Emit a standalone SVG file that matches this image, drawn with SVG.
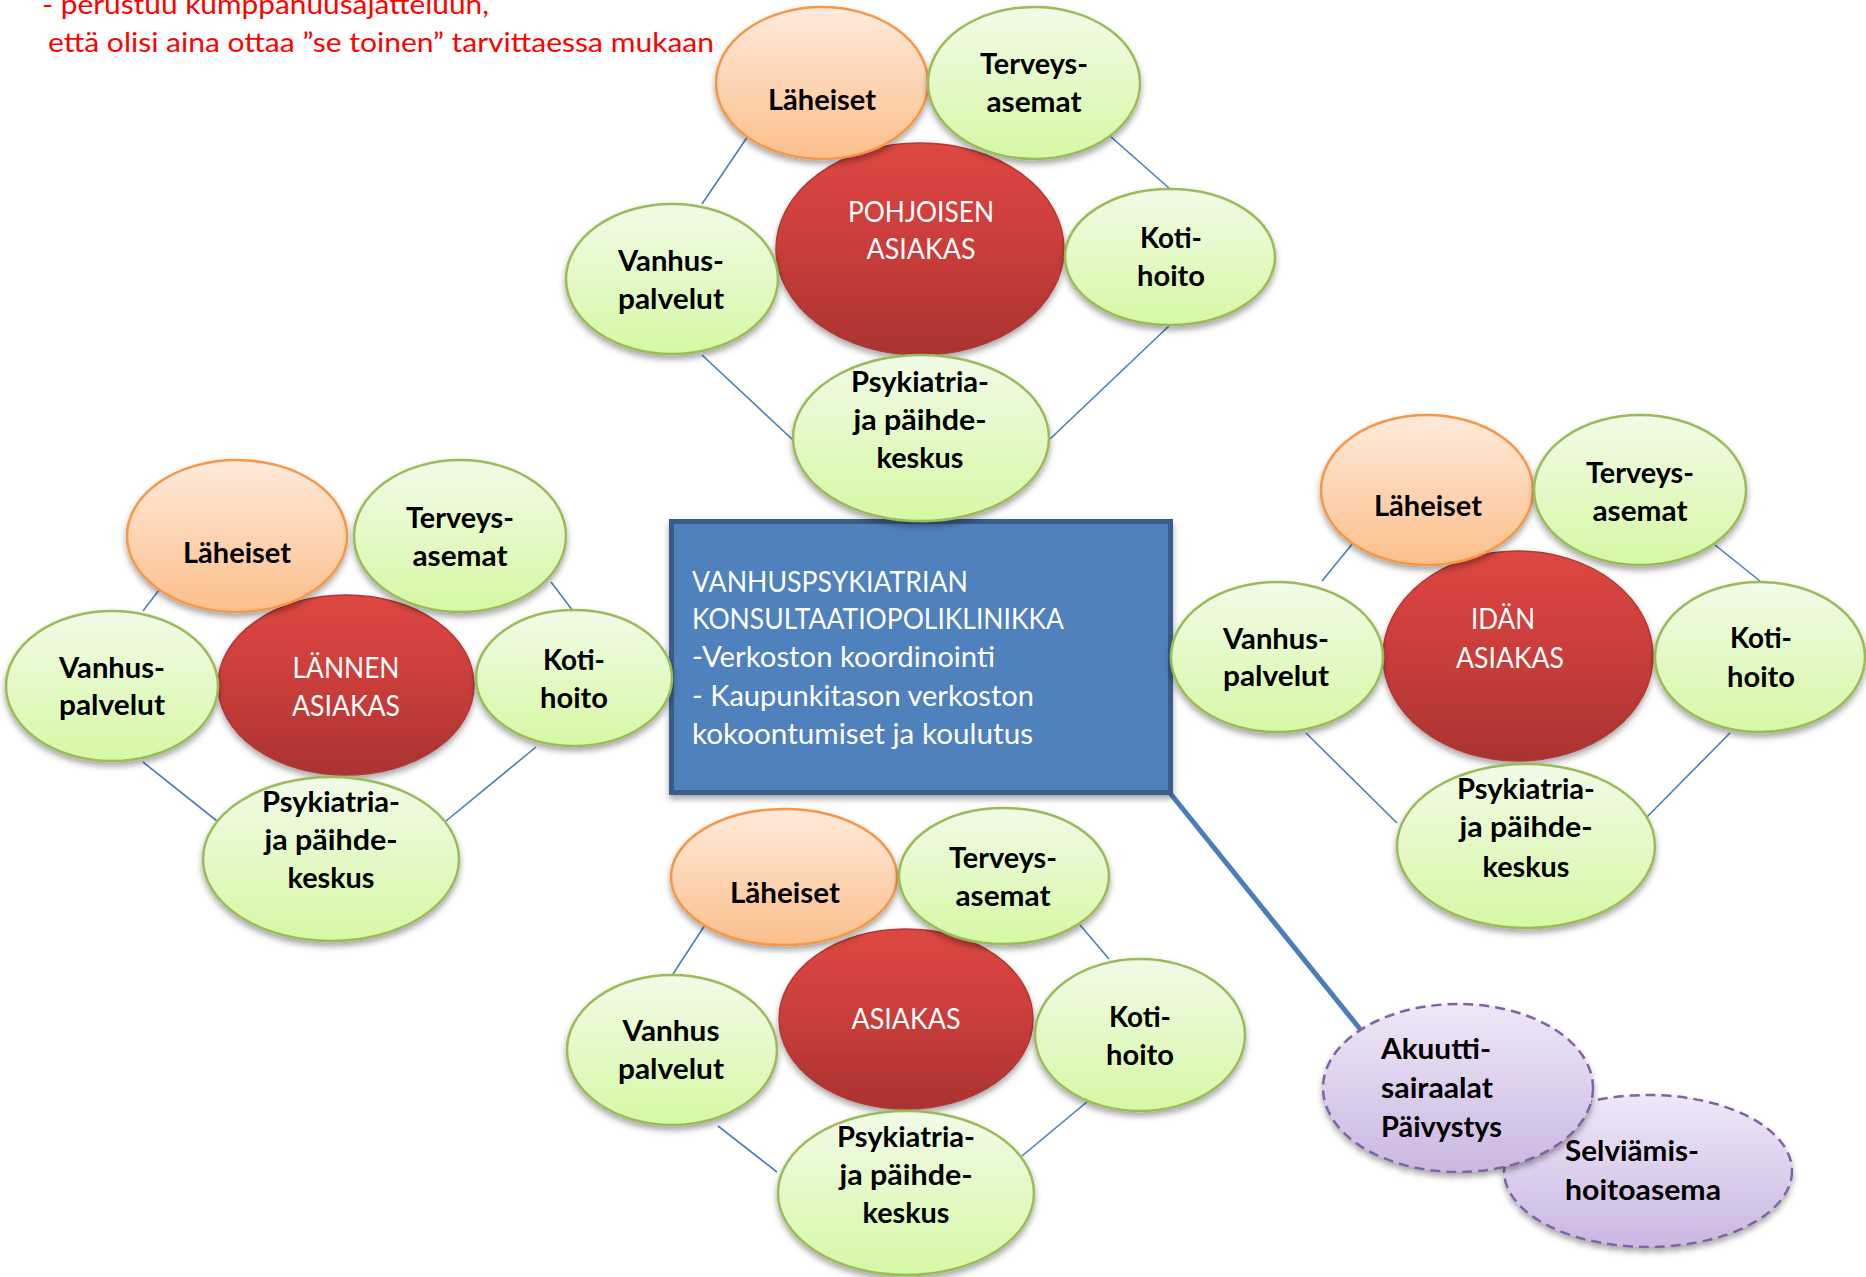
<svg xmlns="http://www.w3.org/2000/svg" width="1866" height="1277" viewBox="0 0 1866 1277">
<defs>
<linearGradient id="gG" x1="0" y1="0" x2="0" y2="1"><stop offset="0" stop-color="#F1FBE8"/><stop offset="1" stop-color="#D6F8A4"/></linearGradient>
<linearGradient id="gO" x1="0" y1="0" x2="0" y2="1"><stop offset="0" stop-color="#FEEADB"/><stop offset="1" stop-color="#FCBF8B"/></linearGradient>
<linearGradient id="gR" x1="0" y1="0" x2="0" y2="1"><stop offset="0" stop-color="#DE4743"/><stop offset="0.5" stop-color="#C93D3A"/><stop offset="1" stop-color="#A93331"/></linearGradient>
<linearGradient id="gP" x1="0" y1="0" x2="0" y2="1"><stop offset="0" stop-color="#EEE8F6"/><stop offset="1" stop-color="#CBB7E3"/></linearGradient>
<filter id="sh" x="-20%" y="-20%" width="140%" height="150%"><feDropShadow dx="0" dy="4" stdDeviation="3" flood-color="#000" flood-opacity="0.35"/></filter>
</defs>
<style>
.g{fill:url(#gG);stroke:#9BBB59;stroke-width:2.5;filter:url(#sh)}
.o{fill:url(#gO);stroke:#F79646;stroke-width:2.5;filter:url(#sh)}
.r{fill:url(#gR);stroke:#B23835;stroke-width:1.5;filter:url(#sh)}
.p{fill:url(#gP);stroke:#8064A2;stroke-width:2.5;stroke-dasharray:10 6;filter:url(#sh)}
.t{font-family:Lato,"Open Sans",sans-serif;font-weight:bold;font-size:28px;fill:#000;text-anchor:middle}
.tl{font-family:Lato,"Open Sans",sans-serif;font-weight:bold;font-size:28px;fill:#000}
.w{font-family:Lato,"Open Sans",sans-serif;font-size:28px;fill:#fff;text-anchor:middle}
.bx{font-family:Lato,"Open Sans",sans-serif;font-size:29px;fill:#fff}
.red{font-family:Lato,"Open Sans",sans-serif;font-size:26px;fill:#FF0000}
.c{stroke:#4A7EBB;stroke-width:1.6;fill:none}
.ct{stroke:#4A7EBB;stroke-width:5;fill:none}
</style>

<g id="note">
<text class="red" x="42" y="14" textLength="447" lengthAdjust="spacingAndGlyphs">- perustuu kumppanuusajatteluun,</text>
<text class="red" x="48" y="52" textLength="666" lengthAdjust="spacingAndGlyphs">että olisi aina ottaa ”se toinen” tarvittaessa mukaan</text>
</g>

<g id="connectors">
<line class="c" x1="748" y1="136" x2="702" y2="204"/>
<line class="c" x1="1110" y1="136" x2="1170" y2="189"/>
<line class="c" x1="702" y1="355" x2="793" y2="440"/>
<line class="c" x1="1170" y1="325" x2="1050" y2="439"/>
<line class="c" x1="159" y1="590" x2="143" y2="611"/>
<line class="c" x1="551" y1="582" x2="573" y2="611"/>
<line class="c" x1="143" y1="762" x2="217" y2="821"/>
<line class="c" x1="536" y1="747" x2="446" y2="821"/>
<line class="c" x1="1353" y1="543" x2="1322" y2="581"/>
<line class="c" x1="1715" y1="545" x2="1760" y2="581"/>
<line class="c" x1="1306" y1="733" x2="1397" y2="823"/>
<line class="c" x1="1730" y1="733" x2="1641" y2="823"/>
<line class="c" x1="705" y1="925" x2="673" y2="974"/>
<line class="c" x1="1080" y1="925" x2="1109" y2="959"/>
<line class="c" x1="718" y1="1126" x2="777" y2="1172"/>
<line class="c" x1="1094" y1="1096" x2="1022" y2="1156"/>
<line class="ct" x1="1170" y1="793" x2="1360" y2="1029"/>
</g>

<g id="box">
<rect x="671.5" y="521.5" width="499" height="271" fill="#4F81BD" stroke="#385D8A" stroke-width="5" filter="url(#sh)"/>
<text class="bx" x="692" y="592" textLength="276" lengthAdjust="spacingAndGlyphs">VANHUSPSYKIATRIAN</text>
<text class="bx" x="692" y="629" textLength="372" lengthAdjust="spacingAndGlyphs">KONSULTAATIOPOLIKLINIKKA</text>
<text class="bx" x="692" y="667" textLength="303" lengthAdjust="spacingAndGlyphs">-Verkoston koordinointi</text>
<text class="bx" x="692" y="706" textLength="342" lengthAdjust="spacingAndGlyphs">- Kaupunkitason verkoston</text>
<text class="bx" x="692" y="744" textLength="341" lengthAdjust="spacingAndGlyphs">kokoontumiset ja koulutus</text>
</g>

<!-- NORTH -->
<g id="n-asiakas"><ellipse class="r" cx="920" cy="249" rx="144" ry="106"/>
<text class="w" x="921" y="222" textLength="146" lengthAdjust="spacingAndGlyphs">POHJOISEN</text>
<text class="w" x="921" y="259" textLength="109" lengthAdjust="spacingAndGlyphs">ASIAKAS</text></g>
<g id="n-laheiset"><ellipse class="o" cx="822" cy="83" rx="106" ry="76"/>
<text class="t" x="822" y="110" textLength="108" lengthAdjust="spacingAndGlyphs">Läheiset</text></g>
<g id="n-terveys"><ellipse class="g" cx="1034" cy="83" rx="106" ry="76"/>
<text class="t" x="1034" y="74" textLength="108" lengthAdjust="spacingAndGlyphs">Terveys-</text>
<text class="t" x="1034" y="112" textLength="95" lengthAdjust="spacingAndGlyphs">asemat</text></g>
<g id="n-vanhus"><ellipse class="g" cx="672" cy="279" rx="106" ry="75"/>
<text class="t" x="671" y="271" textLength="106" lengthAdjust="spacingAndGlyphs">Vanhus-</text>
<text class="t" x="671" y="309" textLength="106" lengthAdjust="spacingAndGlyphs">palvelut</text></g>
<g id="n-koti"><ellipse class="g" cx="1170" cy="257" rx="105" ry="68"/>
<text class="t" x="1171" y="248" textLength="62" lengthAdjust="spacingAndGlyphs">Koti-</text>
<text class="t" x="1171" y="286" textLength="68" lengthAdjust="spacingAndGlyphs">hoito</text></g>
<g id="n-psyk"><ellipse class="g" cx="921" cy="438" rx="128" ry="83"/>
<text class="t" x="920" y="392" textLength="138" lengthAdjust="spacingAndGlyphs">Psykiatria-</text>
<text class="t" x="920" y="430" textLength="133" lengthAdjust="spacingAndGlyphs">ja päihde-</text>
<text class="t" x="920" y="468" textLength="87" lengthAdjust="spacingAndGlyphs">keskus</text></g>

<!-- WEST -->
<g id="w-asiakas"><ellipse class="r" cx="346" cy="685" rx="128" ry="90"/>
<text class="w" x="346" y="678" textLength="107" lengthAdjust="spacingAndGlyphs">LÄNNEN</text>
<text class="w" x="346" y="716" textLength="108" lengthAdjust="spacingAndGlyphs">ASIAKAS</text></g>
<g id="w-laheiset"><ellipse class="o" cx="237" cy="536" rx="110" ry="76"/>
<text class="t" x="237" y="563" textLength="108" lengthAdjust="spacingAndGlyphs">Läheiset</text></g>
<g id="w-terveys"><ellipse class="g" cx="460" cy="536" rx="106" ry="76"/>
<text class="t" x="460" y="528" textLength="108" lengthAdjust="spacingAndGlyphs">Terveys-</text>
<text class="t" x="460" y="566" textLength="95" lengthAdjust="spacingAndGlyphs">asemat</text></g>
<g id="w-vanhus"><ellipse class="g" cx="112" cy="686" rx="106" ry="75"/>
<text class="t" x="112" y="678" textLength="106" lengthAdjust="spacingAndGlyphs">Vanhus-</text>
<text class="t" x="112" y="715" textLength="106" lengthAdjust="spacingAndGlyphs">palvelut</text></g>
<g id="w-koti"><ellipse class="g" cx="574" cy="678" rx="98" ry="68"/>
<text class="t" x="574" y="670" textLength="62" lengthAdjust="spacingAndGlyphs">Koti-</text>
<text class="t" x="574" y="708" textLength="68" lengthAdjust="spacingAndGlyphs">hoito</text></g>
<g id="w-psyk"><ellipse class="g" cx="331" cy="859" rx="128" ry="82"/>
<text class="t" x="331" y="812" textLength="138" lengthAdjust="spacingAndGlyphs">Psykiatria-</text>
<text class="t" x="331" y="850" textLength="133" lengthAdjust="spacingAndGlyphs">ja päihde-</text>
<text class="t" x="331" y="888" textLength="87" lengthAdjust="spacingAndGlyphs">keskus</text></g>

<!-- EAST -->
<g id="e-asiakas"><ellipse class="r" cx="1518" cy="656" rx="135" ry="105"/>
<text class="w" x="1503" y="629" textLength="64" lengthAdjust="spacingAndGlyphs">IDÄN</text>
<text class="w" x="1510" y="668" textLength="108" lengthAdjust="spacingAndGlyphs">ASIAKAS</text></g>
<g id="e-laheiset"><ellipse class="o" cx="1427" cy="490" rx="106" ry="75"/>
<text class="t" x="1428" y="516" textLength="108" lengthAdjust="spacingAndGlyphs">Läheiset</text></g>
<g id="e-terveys"><ellipse class="g" cx="1640" cy="490" rx="106" ry="75"/>
<text class="t" x="1640" y="483" textLength="108" lengthAdjust="spacingAndGlyphs">Terveys-</text>
<text class="t" x="1640" y="521" textLength="95" lengthAdjust="spacingAndGlyphs">asemat</text></g>
<g id="e-vanhus"><ellipse class="g" cx="1277" cy="657" rx="106" ry="75"/>
<text class="t" x="1276" y="649" textLength="106" lengthAdjust="spacingAndGlyphs">Vanhus-</text>
<text class="t" x="1276" y="686" textLength="106" lengthAdjust="spacingAndGlyphs">palvelut</text></g>
<g id="e-koti"><ellipse class="g" cx="1760" cy="657" rx="105" ry="75"/>
<text class="t" x="1761" y="648" textLength="62" lengthAdjust="spacingAndGlyphs">Koti-</text>
<text class="t" x="1761" y="687" textLength="68" lengthAdjust="spacingAndGlyphs">hoito</text></g>
<g id="e-psyk"><ellipse class="g" cx="1526" cy="846" rx="129" ry="82"/>
<text class="t" x="1526" y="799" textLength="138" lengthAdjust="spacingAndGlyphs">Psykiatria-</text>
<text class="t" x="1526" y="837" textLength="133" lengthAdjust="spacingAndGlyphs">ja päihde-</text>
<text class="t" x="1526" y="877" textLength="87" lengthAdjust="spacingAndGlyphs">keskus</text></g>

<!-- SOUTH -->
<g id="s-asiakas"><ellipse class="r" cx="906" cy="1019" rx="127" ry="90"/>
<text class="w" x="906" y="1029" textLength="109" lengthAdjust="spacingAndGlyphs">ASIAKAS</text></g>
<g id="s-laheiset"><ellipse class="o" cx="784" cy="877" rx="113" ry="68"/>
<text class="t" x="785" y="903" textLength="110" lengthAdjust="spacingAndGlyphs">Läheiset</text></g>
<g id="s-terveys"><ellipse class="g" cx="1004" cy="876" rx="105" ry="68"/>
<text class="t" x="1003" y="868" textLength="108" lengthAdjust="spacingAndGlyphs">Terveys-</text>
<text class="t" x="1003" y="906" textLength="95" lengthAdjust="spacingAndGlyphs">asemat</text></g>
<g id="s-vanhus"><ellipse class="g" cx="672" cy="1050" rx="105" ry="75"/>
<text class="t" x="671" y="1041" textLength="97" lengthAdjust="spacingAndGlyphs">Vanhus</text>
<text class="t" x="671" y="1079" textLength="106" lengthAdjust="spacingAndGlyphs">palvelut</text></g>
<g id="s-koti"><ellipse class="g" cx="1140" cy="1035" rx="105" ry="76"/>
<text class="t" x="1140" y="1027" textLength="62" lengthAdjust="spacingAndGlyphs">Koti-</text>
<text class="t" x="1140" y="1065" textLength="68" lengthAdjust="spacingAndGlyphs">hoito</text></g>
<g id="s-psyk"><ellipse class="g" cx="906" cy="1193" rx="128" ry="82"/>
<text class="t" x="906" y="1147" textLength="138" lengthAdjust="spacingAndGlyphs">Psykiatria-</text>
<text class="t" x="906" y="1185" textLength="133" lengthAdjust="spacingAndGlyphs">ja päihde-</text>
<text class="t" x="906" y="1223" textLength="87" lengthAdjust="spacingAndGlyphs">keskus</text></g>

<!-- PURPLE -->
<g id="selviamis"><ellipse class="p" cx="1648" cy="1171" rx="144" ry="76"/>
<text class="tl" x="1565" y="1161" textLength="134" lengthAdjust="spacingAndGlyphs">Selviämis-</text>
<text class="tl" x="1565" y="1200" textLength="156" lengthAdjust="spacingAndGlyphs">hoitoasema</text></g>
<g id="akuutti"><ellipse class="p" cx="1458" cy="1088" rx="135" ry="84"/>
<text class="tl" x="1381" y="1059" textLength="110" lengthAdjust="spacingAndGlyphs">Akuutti-</text>
<text class="tl" x="1381" y="1098" textLength="112" lengthAdjust="spacingAndGlyphs">sairaalat</text>
<text class="tl" x="1381" y="1137" textLength="121" lengthAdjust="spacingAndGlyphs">Päivystys</text></g>
</svg>
